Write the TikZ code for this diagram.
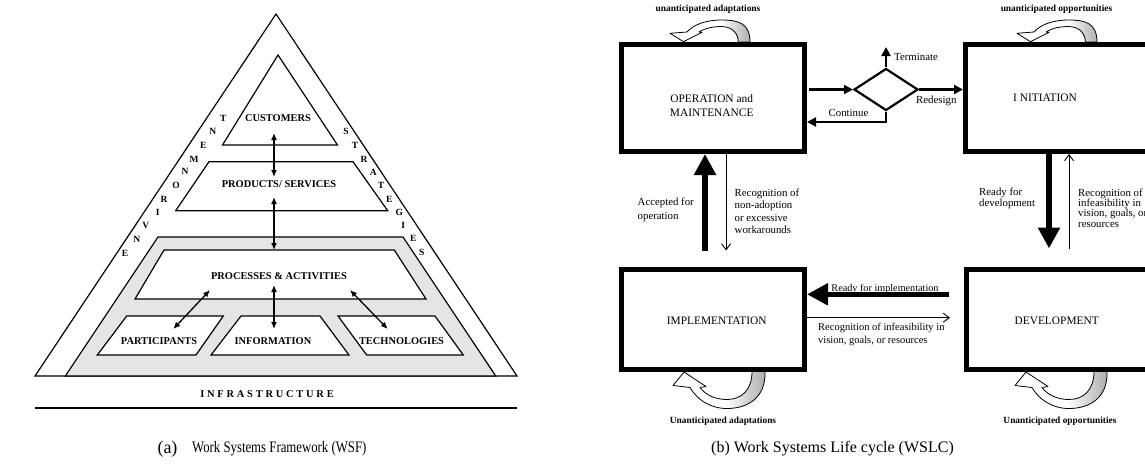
\documentclass[tikz,border=0pt]{standalone}
\usepackage{fontspec}
\usepackage{graphicx}
\setmainfont{Liberation Serif}
\usetikzlibrary{arrows.meta,shapes.geometric,calc}
\definecolor{bandgrey}{RGB}{229,229,229}
\newcommand\InfraGap{\kern2.8pt}
\newcommand\ArcTop{(0,0) .. controls (0,-19) and (-12,-22) .. (-28,-22) .. controls (-45,-22) and (-57,-17) .. (-63,-10) -- (-80,-8.7) -- (-66.5,-0.3) -- (-48,-9.7) -- (-51,-10) .. controls (-44,-14.5) and (-35,-15.5) .. (-28,-15.5) .. controls (-17,-15) and (-11.7,-8) .. (-11.7,0) -- cycle}
\newcommand\ArcBot{(0,0) .. controls (1,26) and (-17,37) .. (-38,37) .. controls (-55,37) and (-68,28) .. (-75,16) -- (-92,14) -- (-81,0.5) -- (-59,15) -- (-65,16) .. controls (-59,24) and (-49,28) .. (-38,28) .. controls (-23,28) and (-13,18) .. (-13,0) -- cycle}
\begin{document}
\begin{tikzpicture}[x=1pt,y=-1pt,
  shp/.style={draw, line width=1.2pt, line join=miter},
  lt/.style={font=\bfseries\fontsize{10.4}{12}\selectfont, inner sep=0pt},
  sidelt/.style={font=\bfseries\fontsize{9.5}{11}\selectfont, inner sep=0pt},
  dbl/.style={line width=1.3pt, {Latex[length=7pt,width=6pt]}-{Latex[length=7pt,width=6pt]}},
  box/.style={draw, line width=5pt, inner sep=0pt},
  boxtxt/.style={font=\fontsize{11.4}{13.4}\selectfont, align=center, inner sep=0pt},
  lbl/.style={font=\fontsize{10.8}{12.6}\selectfont, align=left, inner sep=0pt},
  unant/.style={font=\bfseries\fontsize{9.4}{11}\selectfont, inner sep=0pt},
  heavyarr/.style={line width=5.5pt, -{Triangle[length=21pt,width=21pt]}},
  midarr/.style={line width=2.2pt, -{Triangle[length=9pt,width=9pt]}},
  thinarr/.style={line width=0.9pt, -{Straight Barb[length=6pt,width=9pt]}},
  arcline/.style={line width=0.8pt, line join=round}
]
\useasboundingbox[fill=white] (0,0) rectangle (1145,463);

% ---------------- (a) Work Systems Framework ----------------
\draw[shp] (276,14) -- (517,376) -- (35,376) -- cycle;
\draw[shp] (35,408) -- (517,408);
\filldraw[shp, fill=bandgrey] (158,237) -- (403,237) -- (495.7,376) -- (65.3,376) -- cycle;
\draw[shp] (278,55) -- (337.5,145) -- (222.5,145) -- cycle;
\draw[shp, fill=white] (209,161.7) -- (353,161.7) -- (387.7,210.7) -- (175.7,210.7) -- cycle;
\draw[shp, fill=white] (164,250) -- (394.3,250) -- (426,299) -- (135,299) -- cycle;
\draw[shp, fill=white] (126.7,316) -- (223.3,316) -- (196,355) -- (97.3,355) -- cycle;
\draw[shp, fill=white] (241,316) -- (320,316) -- (349,355) -- (211,355) -- cycle;
\draw[shp, fill=white] (338,316) -- (435,316) -- (463.3,355) -- (366.7,355) -- cycle;

\node[lt] (cust) at (278,118.5) {CUSTOMERS};
\node[lt] (prod) at (279,184.5) {PRODUCTS/ SERVICES};
\node[lt] (proc) at (279,276) {PROCESSES \& ACTIVITIES};
\node[lt] (part) at (159,341) {PARTICIPANTS};
\node[lt] (info) at (273,341) {INFORMATION};
\node[lt] (tech) at (401.5,341) {TECHNOLOGIES};
\node[lt] (infra) at (267,394) {I\InfraGap N\InfraGap F\InfraGap R\InfraGap A\InfraGap S\InfraGap T\InfraGap R\InfraGap U\InfraGap C\InfraGap T\InfraGap U\InfraGap R\InfraGap E};

\coordinate (c1) at (274,133);   \coordinate (c2) at (274,177);
\coordinate (p1) at (274,197);   \coordinate (p2) at (274,250);
\coordinate (i1) at (274,285);   \coordinate (i2) at (274,329);
\coordinate (a1) at (210,290);   \coordinate (a2) at (173.3,329);
\coordinate (t1) at (350,290);   \coordinate (t2) at (387.7,329);
\draw[dbl] (c1) -- (c2);
\draw[dbl] (p1) -- (p2);
\draw[dbl] (i1) -- (i2);
\draw[dbl] (a1) -- (a2);
\draw[dbl] (t1) -- (t2);

\foreach \t/\x/\y [count=\i] in {E/125/253, N/136.7/239, V/145.7/225.7, I/157.7/212.3, R/164/199, O/176/185, N/185/171.7, M/194/159, E/203.3/145.7, N/212.7/131, T/223.3/118.3}
  \node[sidelt] (env\i) at (\x,\y) {\t};
\foreach \t/\x/\y [count=\i] in {S/346/131.7, T/355/145.7, R/364/159, A/373.3/172.3, T/381/185.7, E/389.3/199, G/399.3/212.3, I/403.3/225.7, E/413.3/238.3, S/421.7/252.7}
  \node[sidelt] (str\i) at (\x,\y) {\t};

\node[font=\fontsize{18}{20}\selectfont, inner sep=0pt] (capa1) at (167.5,449) {(a)};
\node[anchor=west, inner sep=0pt] (capa2) at (192,449) {\scalebox{0.8}[1]{\fontsize{16}{18}\selectfont Work Systems Framework (WSF)}};

% ---------------- (b) Work Systems Life cycle ----------------
% curved arrows
\foreach \sx/\sy in {750/42, 1097/42} {
\begin{scope}[shift={(\sx,\sy)}]
  \fill[white] \ArcTop;
  \begin{scope}
    \clip \ArcTop;
    \shade[left color=white, right color=gray!65] (-30,-25) rectangle (1,1);
  \end{scope}
  \draw[arcline] \ArcTop;
\end{scope}
}
\foreach \sx/\sy in {765/371.5, 1107/371.5} {
\begin{scope}[shift={(\sx,\sy)}]
  \fill[white] \ArcBot;
  \begin{scope}
    \clip \ArcBot;
    \shade[left color=white, right color=gray!65] (-40,-1) rectangle (1,40);
  \end{scope}
  \draw[arcline] \ArcBot;
\end{scope}
}

\node[box, minimum width=183pt, minimum height=107pt] (op) at (713,98) {};
\node[box, minimum width=192pt, minimum height=107pt] (init) at (1061.5,98) {};
\node[box, minimum width=183pt, minimum height=100pt] (impl) at (713,319) {};
\node[box, minimum width=191pt, minimum height=100pt] (dev) at (1062,319) {};

\node[boxtxt] (optxt) at (711.7,105.5) {OPERATION and\\MAINTENANCE};
\node[boxtxt] (inittxt) at (1045,98) {I NITIATION};
\node[boxtxt] (impltxt) at (716.7,321) {IMPLEMENTATION};
\node[boxtxt] (devtxt) at (1056.7,321) {DEVELOPMENT};

\node[draw, diamond, line width=2.2pt, minimum width=64pt, minimum height=42pt, inner sep=0pt] (dia) at (886,89.5) {};
\coordinate (term) at (886,47);
\coordinate (cc) at (886,122);
\draw[midarr, shorten <=2pt] (op.east |- dia.west) -- (dia.west);
\draw[midarr] (dia.north) -- (term);
\draw[midarr] (dia.east) -- (dia.east -| init.west);
\draw[midarr] (dia.south) -- (cc) -- (cc -| op.east);

\coordinate (xacc) at (705,0);
\coordinate (xnon) at (726,0);
\coordinate (xrd) at (1049,0);
\coordinate (xri) at (1069,0);
\coordinate (yri) at (0,294.3);
\coordinate (yrr) at (0,317.7);
\draw[heavyarr, shorten <=16pt] (impl.north -| xacc) -- (op.south -| xacc);
\draw[thinarr, shorten >=16pt] (op.south -| xnon) -- (impl.north -| xnon);
\draw[heavyarr, shorten >=18pt] (init.south -| xrd) -- (dev.north -| xrd);
\draw[thinarr, shorten <=18pt] (dev.north -| xri) -- (init.south -| xri);
\draw[heavyarr, shorten <=15pt] (dev.west |- yri) -- (impl.east |- yri);
\draw[thinarr, shorten >=14pt] (impl.east |- yrr) -- (dev.west |- yrr);

\node[lbl, anchor=west] (lterm) at (894,57) {Terminate};
\node[lbl, anchor=west] (lred) at (916,101) {Redesign};
\node[lbl] (lcont) at (848.5,113) {Continue};
\node[lbl, anchor=west, font=\fontsize{10.8}{14}\selectfont] (lacc) at (637.5,209.7) {Accepted for\\operation};
\node[lbl, anchor=west] (lnon) at (734.5,211.3) {Recognition of\\non-adoption\\or excessive\\workarounds};
\node[lbl, anchor=west, font=\fontsize{10.8}{10.7}\selectfont] (lrd) at (979,198.5) {Ready for\\development};
\node[lbl, anchor=west, font=\fontsize{10.8}{10.3}\selectfont] (lri) at (1078,208) {Recognition of\\infeasibility in\\vision, goals, or\\resources};
\node[lbl, anchor=base, font=\fontsize{10.2}{12}\selectfont] (lrimp) at (885,291) {Ready for implementation};
\node[lbl, anchor=west, font=\fontsize{10.5}{12.7}\selectfont] (lrinf) at (818,334.7) {Recognition of infeasibility in\\vision, goals, or resources};

\node[unant] (ua1) at (708,9.5) {unanticipated adaptations};
\node[unant] (uo1) at (1056.5,9.5) {unanticipated opportunities};
\node[unant] (ua2) at (723,421) {Unanticipated adaptations};
\node[unant] (uo2) at (1060,421) {Unanticipated opportunities};

\node[font=\fontsize{16}{18}\selectfont, inner sep=0pt] (capb) at (832.5,449) {(b) Work Systems Life cycle (WSLC)};
\end{tikzpicture}
\end{document}
